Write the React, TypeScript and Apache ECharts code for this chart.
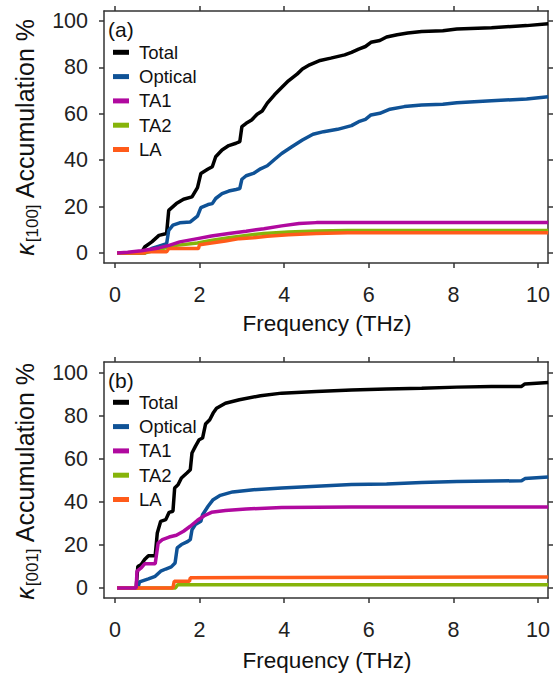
import React, { useEffect, useRef } from "react";
import * as echarts from "echarts";

const seriesNames = ["Total", "Optical", "TA1", "TA2", "LA"];
const seriesColors = ["#000000", "#0f5296", "#b0099f", "#86b40a", "#ff5b1a"];
const xTicks = [0, 2, 4, 6, 8, 10];
const yTicks = [0, 20, 40, 60, 80, 100];

// Panel (a): kappa[100]
const totalA: [number, number][] = [[0.05,0],[0.62,0],[0.7,2.6],[0.87,4.8],[1.04,7.6],[1.22,8.4],[1.27,18.4],[1.45,21.3],[1.62,23.2],[1.82,24.2],[1.95,28.2],[2.03,34.3],[2.2,36.2],[2.3,37.2],[2.38,41.5],[2.53,44.4],[2.69,46.3],[2.86,47.3],[2.95,48],[3.0,54.5],[3.1,55.9],[3.23,57.3],[3.36,59.8],[3.48,61.2],[3.6,64.6],[3.77,68.2],[3.94,71.3],[4.1,74.2],[4.31,77.2],[4.43,79.3],[4.6,81.1],[4.85,83],[5.1,84],[5.43,85.4],[5.59,86.5],[5.76,87.9],[5.92,89],[6.05,90.8],[6.26,91.6],[6.42,93.1],[6.67,94.1],[6.92,94.8],[7.25,95.5],[7.75,95.8],[8.08,96.5],[8.9,97.1],[9.73,98],[10.24,98.8]];
const opticalA: [number, number][] = [[0.05,0],[0.7,0],[0.87,2],[1.04,3],[1.22,4],[1.27,9.8],[1.37,12],[1.53,13],[1.78,13.4],[1.95,15.9],[2.03,19.6],[2.2,20.9],[2.3,21.3],[2.38,23.5],[2.53,25.6],[2.69,26.7],[2.86,27.4],[2.95,27.8],[3.0,31.8],[3.1,33.3],[3.27,34.3],[3.44,36.3],[3.6,37.6],[3.77,40.3],[3.94,42.9],[4.18,45.8],[4.43,48.7],[4.68,51.2],[4.93,52.3],[5.26,53.3],[5.59,54.9],[5.76,56.6],[5.92,57.6],[6.05,59.5],[6.26,60.2],[6.5,62],[6.84,63.1],[7.25,63.8],[7.75,64.1],[8.08,64.8],[8.9,65.6],[9.73,66.4],[10.24,67.3]];
const ta1A: [number, number][] = [[0.05,0],[0.3,0.3],[0.62,1],[1.04,2.2],[1.28,3.3],[1.53,4.8],[1.95,6.2],[2.28,7.3],[2.69,8.4],[3.1,9.4],[3.52,10.5],[3.94,11.7],[4.35,12.7],[4.76,13.1],[10.24,13.1]];
const ta2A: [number, number][] = [[0.05,0],[0.7,0],[1.0,1.5],[1.3,2.6],[1.45,3.3],[1.95,4.3],[2.3,5.5],[2.69,6.6],[3.1,7.6],[3.52,8.4],[4.1,9.1],[4.76,9.5],[5.5,9.7],[10.24,9.7]];
const laA: [number, number][] = [[0.05,0],[0.7,0],[0.72,0.5],[1.22,0.5],[1.27,1.9],[1.97,1.9],[2.0,3.6],[2.28,4.3],[2.61,5.2],[2.94,6.2],[3.27,6.6],[3.6,7.2],[4.1,7.9],[4.76,8.4],[5.5,8.7],[10.24,8.7]];

// Panel (b): kappa[001]
const totalB: [number, number][] = [[0.05,0],[0.5,0],[0.54,10],[0.62,10.9],[0.7,13.2],[0.79,15],[0.95,15],[1.0,25.6],[1.08,31],[1.2,31.8],[1.28,35.2],[1.37,35.7],[1.41,46.5],[1.49,48],[1.57,51.2],[1.7,53.5],[1.78,55],[1.82,62.8],[1.9,65.9],[1.99,69],[2.07,69.8],[2.14,76.3],[2.24,78.3],[2.32,81.4],[2.4,83.7],[2.61,86],[2.94,87.6],[3.44,89.5],[3.94,90.7],[4.76,91.5],[5.59,92.2],[6.42,92.6],[7.25,93],[8.08,93.5],[8.9,93.8],[9.61,93.8],[9.69,95],[10.24,95.7]];
const opticalB: [number, number][] = [[0.05,0],[0.54,0],[0.58,2.8],[0.79,4.2],[0.95,5.4],[1.08,7.8],[1.2,8.8],[1.33,9.8],[1.42,11.6],[1.47,18.6],[1.57,20.2],[1.7,21.4],[1.78,22.5],[1.82,27.1],[1.9,29.5],[2.03,31],[2.07,34.1],[2.2,38],[2.32,41.1],[2.49,43.1],[2.78,44.7],[3.27,45.7],[3.94,46.5],[4.76,47.3],[5.59,48.1],[6.42,48.4],[7.25,49.1],[8.08,49.6],[9.61,49.9],[9.69,50.9],[10.24,51.6]];
const ta1B: [number, number][] = [[0.05,0],[0.5,0],[0.52,7.8],[0.62,9.3],[0.7,11.2],[0.95,11.2],[1.02,20.9],[1.12,22.5],[1.28,23.7],[1.45,24.5],[1.62,26.4],[1.78,28.7],[1.95,31.5],[2.11,33.6],[2.28,35.2],[2.61,36],[3.1,36.7],[3.94,37.5],[5.59,37.7],[10.24,37.7]];
const ta2B: [number, number][] = [[0.05,0],[1.43,0],[1.48,1.5],[10.24,1.5]];
const laB: [number, number][] = [[0.05,0],[1.37,0],[1.4,3.1],[1.76,3.1],[1.78,4.7],[4,4.9],[10.24,5.1]];

const panelData = [
  [totalA, opticalA, ta1A, ta2A, laA],
  [totalB, opticalB, ta1B, ta2B, laB],
];
const panelLabels = ["(a)", "(b)"];
const panelSubs = ["[100]", "[001]"];

const FONT = '"Liberation Sans", Arial, Helvetica, sans-serif';
const AX = "#333333";

export default function App() {
  const ref = useRef<HTMLDivElement>(null);
  useEffect(() => {
    if (!ref.current) return;
    const chart = echarts.init(ref.current, null, { renderer: "svg" });

    const grids = [
      { left: 104, top: 11, width: 446, height: 252 },
      { left: 104, top: 362, width: 446, height: 236 },
    ];
    const yRanges = [
      [-4.3, 104.3],
      [-4.7, 105.2],
    ];

    const xAxis: any[] = [];
    const yAxis: any[] = [];
    grids.forEach((g, i) => {
      const base = {
        type: "value",
        gridIndex: i,
        splitLine: { show: false },
        axisLine: { show: true, onZero: false, lineStyle: { color: AX, width: 1.5 } },
        axisTick: { show: true, inside: false, length: 5, lineStyle: { color: AX, width: 1.5 } },
      };
      xAxis.push({
        ...base,
        position: "bottom",
        min: -0.26,
        max: 10.24,
        axisTick: { ...base.axisTick, customValues: xTicks },
        axisLabel: { customValues: xTicks, margin: 21, color: "#222", fontSize: 21.5, fontFamily: FONT },
      });
      xAxis.push({
        ...base,
        position: "top",
        min: -0.26,
        max: 10.24,
        axisTick: { ...base.axisTick, customValues: xTicks },
        axisLabel: { show: false },
      });
      yAxis.push({
        ...base,
        position: "left",
        min: yRanges[i][0],
        max: yRanges[i][1],
        axisTick: { ...base.axisTick, customValues: yTicks },
        axisLabel: { customValues: yTicks, margin: 16, color: "#222", fontSize: 21.5, fontFamily: FONT },
      });
      yAxis.push({
        ...base,
        position: "right",
        min: yRanges[i][0],
        max: yRanges[i][1],
        axisTick: { ...base.axisTick, customValues: yTicks },
        axisLabel: { show: false },
      });
    });

    const drawOrder = [0, 1, 3, 4, 2];
    const series: any[] = [];
    panelData.forEach((data, p) => {
      drawOrder.forEach((k) => {
        series.push({
          type: "line",
          name: seriesNames[k],
          xAxisIndex: p * 2,
          yAxisIndex: p * 2,
          data: data[k],
          showSymbol: false,
          symbol: "none",
          clip: true,
          color: seriesColors[k],
          lineStyle: { width: 3.5, color: seriesColors[k] },
          z: 2,
        });
      });
    });

    const legendTops = [42.3, 392.3];
    const legend = legendTops.map((t) => ({
      orient: "vertical",
      left: 113,
      top: t,
      padding: 0,
      itemWidth: 16,
      itemHeight: 5,
      itemGap: 4.3,
      icon: "rect",
      selectedMode: false,
      data: seriesNames,
      textStyle: { fontSize: 18.5, lineHeight: 20, color: "#111", fontFamily: FONT, padding: [0, 0, 0, 5] },
    }));

    const graphic: any[] = [];
    const labelY = [29, 380];
    const axisMid = [137, 481];
    const xNameY = [323, 660];
    panelLabels.forEach((lab, p) => {
      graphic.push({
        type: "text",
        x: 108,
        y: labelY[p],
        style: { text: lab, fontSize: 21, fontFamily: FONT, fill: "#111", verticalAlign: "middle", align: "left" },
      });
      graphic.push({
        type: "text",
        x: 327,
        y: xNameY[p],
        style: { text: "Frequency (THz)", fontSize: 22.5, fontFamily: FONT, fill: "#111", verticalAlign: "middle", align: "center" },
      });
      graphic.push({
        type: "text",
        x: 25,
        y: axisMid[p],
        rotation: Math.PI / 2,
        style: {
          text: "{k|κ}{s|" + panelSubs[p] + "}{m| Accumulation %}",
          align: "center",
          verticalAlign: "middle",
          fill: "#111",
          rich: {
            k: { fontSize: 25, fontFamily: FONT, fontStyle: "italic", fill: "#111" },
            s: { fontSize: 17, fontFamily: FONT, fill: "#111", padding: [15, 0, 0, 1] },
            m: { fontSize: 25, fontFamily: FONT, fill: "#111" },
          },
        },
      });
    });

    chart.setOption({
      animation: false,
      backgroundColor: "#ffffff",
      grid: grids,
      xAxis,
      yAxis,
      legend,
      series,
      graphic,
    });
    return () => chart.dispose();
  }, []);
  return <div ref={ref} style={{ position: "absolute", left: 0, top: 0, width: 553, height: 675 }} />;
}
